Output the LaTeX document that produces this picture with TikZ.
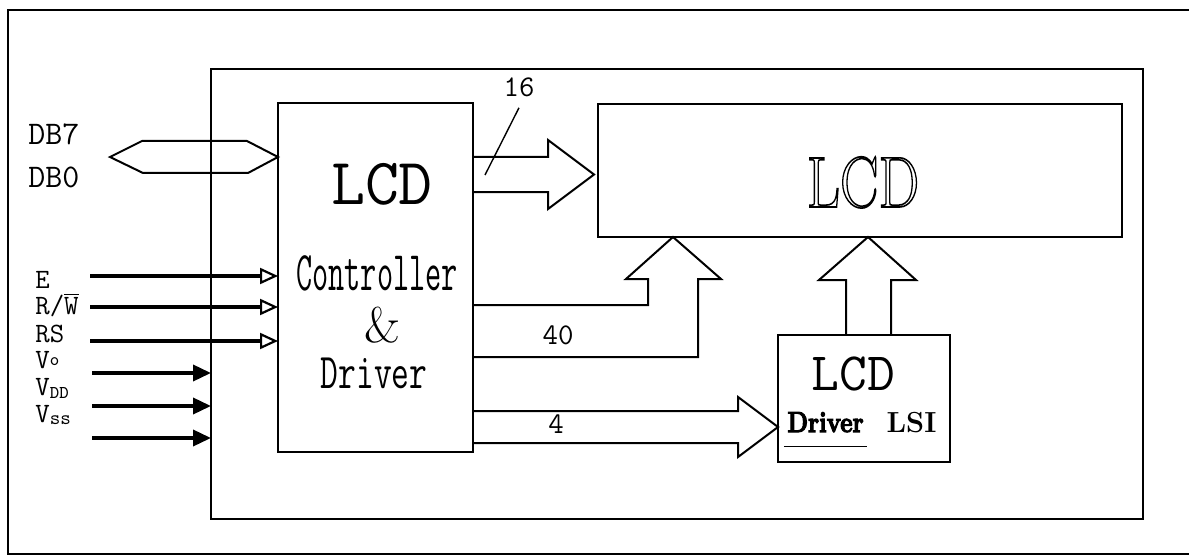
\documentclass[tikz,border=0pt]{standalone}
\usetikzlibrary{arrows.meta}

% outline (hollow) letters for the big panel label
\newcommand{\hollowtext}[1]{\special{pdf:literal direct 1 Tr 0.8 w}#1\special{pdf:literal direct 0 Tr}}
% extra heavy letters (fill and stroke)
\newcommand{\heavytext}[1]{\special{pdf:literal direct 2 Tr 0.6 w}#1\special{pdf:literal direct 0 Tr}}

\begin{document}
\begin{tikzpicture}[
  x=0.5pt, y=-0.5pt,
  % block styles
  box/.style={draw, line width=1pt, inner sep=0pt, outer sep=0pt},
  bus/.style={draw, line width=1pt, line join=miter},
  % signal styles
  sigline/.style={draw, line width=1.8pt, -{Triangle[open, length=9pt, width=8pt, line width=1.1pt]}},
  pwrline/.style={draw, line width=1.8pt, -{Triangle[length=9pt, width=8pt]}},
  pinlbl/.style={anchor=base west, inner sep=0pt, font=\ttfamily\fontsize{14}{14}\selectfont},
  buslbl/.style={anchor=base, inner sep=0pt, font=\ttfamily\fontsize{15}{15}\selectfont},
  boxtxt/.style={anchor=base, inner sep=0pt}
]
  \useasboundingbox (0,0) rectangle (1189,556);

  % ==========================================
  % FRAMES
  % ==========================================
  \draw[box] (8,10) rectangle (1195,554);
  \node[box, minimum width=466pt, minimum height=225pt] (module) at (677,294) {};

  % ==========================================
  % BLOCKS
  % ==========================================
  \node[box, minimum width=97.5pt, minimum height=174.5pt] (ctrl) at (375.5,277.5) {};
  \node[box, minimum width=262pt, minimum height=66.5pt] (lcd) at (860,170.5) {};
  \node[box, minimum width=86pt, minimum height=63.5pt] (drv) at (864,398.5) {};

  % controller texts
  \node[boxtxt, font=\ttfamily\fontsize{33}{33}\selectfont] (ctrlA) at (382,205) {LCD};
  \node[boxtxt, font=\ttfamily\fontsize{28}{28}\selectfont] (ctrlB) at (377,290) {\scalebox{0.56}[1]{Controller}};
  \node[boxtxt, font=\rmfamily\fontsize{25}{25}\selectfont] (ctrlC) at (382,342) {\&};
  \node[boxtxt, font=\ttfamily\fontsize{25}{25}\selectfont] (ctrlD) at (374,388) {\scalebox{0.69}[1]{Driver}};

  % panel text
  \node[boxtxt, font=\rmfamily\fontsize{36}{36}\selectfont] (lcdA) at (863,207) {\scalebox{0.8}[1]{\hollowtext{LCD}}};

  % driver LSI texts
  \node[boxtxt, font=\ttfamily\fontsize{27}{27}\selectfont] (drvA) at (853.5,390) {LCD};
  \node[boxtxt, font=\rmfamily\bfseries\fontsize{14.5}{14.5}\selectfont] (drvB) at (825.5,432) {\scalebox{0.83}[1]{\heavytext{Driver}}};
  \node[boxtxt, font=\rmfamily\bfseries\fontsize{14.5}{14.5}\selectfont] (drvC) at (911.5,432) {LSI};
  \draw[line width=0.6pt, shorten <=-1.5pt, shorten >=-1.5pt] ([yshift=-7pt]drvB.south west) -- ([yshift=-7pt]drvB.south east);

  % ==========================================
  % DATA BUS DB0..DB7
  % ==========================================
  \node[anchor=west, inner sep=0pt, font=\ttfamily\fontsize{16.5}{16.5}\selectfont] (lDB7) at (28,134) {DB7};
  \node[anchor=west, inner sep=0pt, font=\ttfamily\fontsize{16.5}{16.5}\selectfont] (lDB0) at (28,177) {DB0};
  \draw[bus] (110,157) -- (142,141) -- (247,141) -- (278,157) -- (248,173) -- (143,173) -- cycle;

  % ==========================================
  % BLOCK ARROWS
  % ==========================================
  % 16 lines to the panel
  \draw[bus] (473,157) -- (548,157) -- (548,140) -- (594,174.5) -- (548,209) -- (548,192) -- (473,192);
  \node[buslbl] (lbl16) at (519,97) {16};
  \coordinate (bus16) at (485,175);
  \draw[line width=0.7pt] ([yshift=-5pt]lbl16.south) -- (bus16);

  % 40 lines up into the panel
  \draw[bus] (473,305) -- (648,305) -- (648,279) -- (626,279) -- (673,237) -- (721,279) -- (698,279) -- (698,357) -- (473,357);
  \node[buslbl] (lbl40) at (558,344) {40};

  % driver LSI up into the panel
  \draw[bus] (846,335) -- (846,280) -- (819,280) -- (868,237) -- (916,280) -- (891,280) -- (891,335);

  % 4 lines to the driver LSI
  \draw[bus] (473,411) -- (738,411) -- (738,397) -- (778,427) -- (738,457) -- (738,443) -- (473,443);
  \node[buslbl] (lbl4) at (556,433) {4};

  % ==========================================
  % CONTROL AND SUPPLY PINS
  % ==========================================
  \foreach \y/\nm in {276/inE, 307/inRW, 341/inRS} {
    \coordinate (\nm) at (90,\y);
    \draw[sigline] (\nm) -- (\nm -| ctrl.west);
  }
  \foreach \y/\nm in {373/inVo, 406/inVdd, 438/inVss} {
    \coordinate (\nm) at (92,\y);
    \draw[pwrline] (\nm) -- (\nm -| module.west);
  }

  \node[pinlbl] (lE) at (35,288) {E};
  \node[pinlbl] (lRW) at (35,314) {R/$\overline{\mbox{W}}$};
  \node[pinlbl] (lRS) at (35,342) {RS};
  \node[pinlbl] (lVo) at (35,368) {V\raisebox{1.5pt}{\fontsize{9}{9}\selectfont o}};
  \node[pinlbl] (lVdd) at (35,395) {V\raisebox{-1.5pt}{\fontsize{9}{9}\selectfont DD}};
  \node[pinlbl] (lVss) at (35,422) {V\raisebox{-1pt}{\fontsize{10}{10}\selectfont ss}};

\end{tikzpicture}
\end{document}
